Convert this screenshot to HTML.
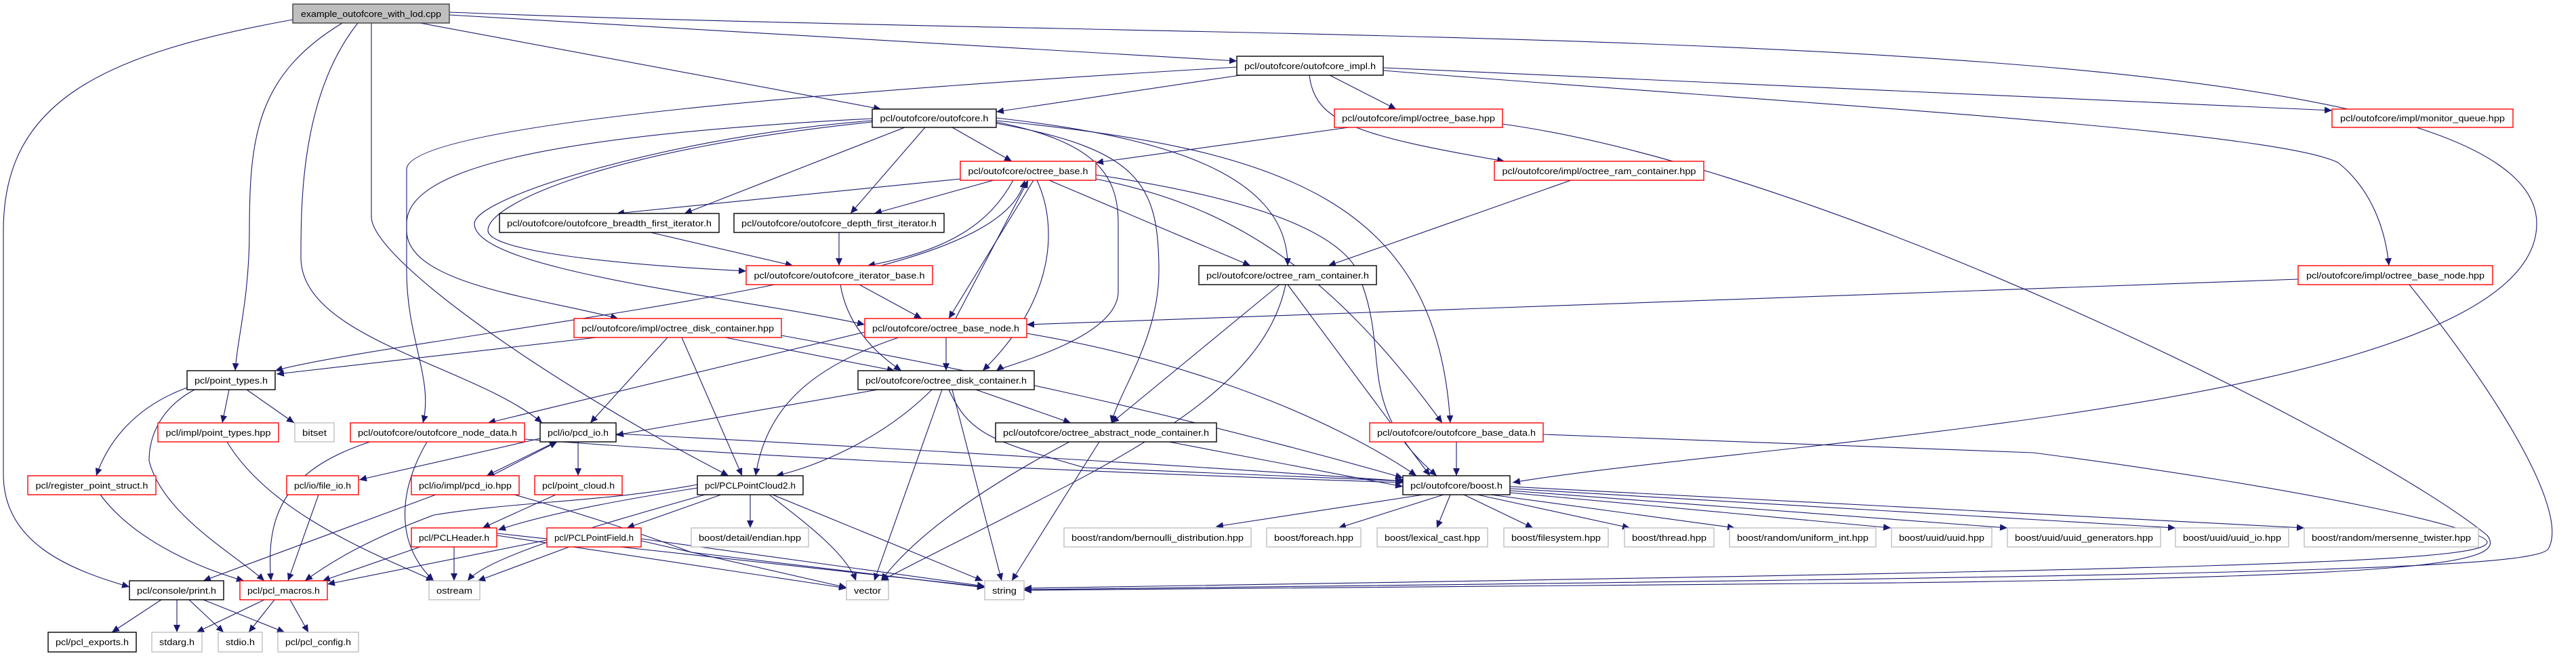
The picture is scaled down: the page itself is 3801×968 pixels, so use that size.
<!DOCTYPE html>
<html><head><meta charset="utf-8"><style>
html,body{margin:0;padding:0;background:#fff;}
svg{display:block;}
.b rect{fill:#fff;stroke-width:1.4;}
.k rect{stroke:#000;}
.r rect{stroke:#ff0000;}
.g rect{stroke:#bfbfbf;}
text{font-family:"Liberation Sans",sans-serif;font-size:13px;fill:#000;}
.e path{fill:none;stroke:#191970;stroke-width:1.1;}
</style></head><body>
<svg width="3801" height="968" viewBox="0 0 3801 968" xmlns="http://www.w3.org/2000/svg">
<defs><marker id="a" markerUnits="userSpaceOnUse" markerWidth="12" markerHeight="10" refX="11" refY="5" orient="auto"><path d="M0,0 L11,5 L0,10 Z" fill="#191970"/></marker></defs>
<g class="e" marker-end="url(#a)">
<path d="M663,22 L1825,90"/>
<path d="M663,18 C2000,70 3743,20 3743,330 C3743,600 2600,650 2232,712"/>
<path d="M620,34 L1300,161"/>
<path d="M505,34 C380,110 368,200 368,340 C368,440 350,500 347,547"/>
<path d="M528,34 C444,140 444,300 444,380 C444,500 700,540 800,624"/>
<path d="M432,29 C150,80 5,150 5,340 L5,700 C5,800 100,840 191,866"/>
<path d="M548,34 L548,320 C548,380 800,560 1075,702"/>
<path d="M1830,111 L1470,165"/>
<path d="M1962,111 L2060,161"/>
<path d="M1932,111 C1940,180 2000,200 2220,238"/>
<path d="M2041,100 L3441,163"/>
<path d="M2041,104 C2600,150 3350,190 3450,240 C3500,280 3520,340 3525,392"/>
<path d="M1825,99 C1300,130 600,180 600,250 L600,340 C600,420 800,440 912,470"/>
<path d="M1990,188 L1617,240"/>
<path d="M2217,183 C2700,250 3500,650 3670,790 C3700,830 3600,850 2800,860 L1511,871"/>
<path d="M3391,412 L1515,479"/>
<path d="M3555,420 C3700,600 3790,760 3760,810 C3740,840 3300,850 1511,870"/>
<path d="M2318,266 L1960,392"/>
<path d="M1405,188 L1493,238"/>
<path d="M1335,188 L1010,315"/>
<path d="M1365,188 L1255,315"/>
<path d="M1287,180 C900,220 720,300 720,340 C720,370 900,390 1101,400"/>
<path d="M1287,178 C1000,200 700,290 700,330 C700,400 1100,440 1276,479"/>
<path d="M1287,175 C800,200 600,250 600,330 L600,400 C600,500 640,560 624,624"/>
<path d="M1470,178 C1900,220 2120,300 2140,624"/>
<path d="M1470,174 C1700,200 1900,250 1900,392"/>
<path d="M1470,180 C1620,210 1650,260 1650,330 L1650,430 C1650,500 1480,540 1470,547"/>
<path d="M1470,182 C1680,220 1710,270 1710,400 C1710,500 1650,580 1640,624"/>
<path d="M1417,264 L910,315"/>
<path d="M1466,266 L1290,315"/>
<path d="M1495,266 C1460,330 1400,370 1280,392"/>
<path d="M1300,392 C1420,360 1500,320 1512,266"/>
<path d="M1525,266 L1400,470"/>
<path d="M1410,470 L1517,266"/>
<path d="M1548,266 L1845,392"/>
<path d="M1530,266 C1560,330 1560,440 1450,547"/>
<path d="M1612,263 C1800,300 1950,380 2128,624"/>
<path d="M1617,258 C1900,300 2000,360 2010,420 C2050,530 2000,600 2120,702"/>
<path d="M960,343 L1170,392"/>
<path d="M1238,343 L1238,392"/>
<path d="M1143,420 C900,470 500,520 406,547"/>
<path d="M1268,420 L1360,470"/>
<path d="M1240,420 C1250,480 1290,520 1330,547"/>
<path d="M1888,420 L1640,624"/>
<path d="M1900,420 L2110,702"/>
<path d="M1897,420 C1860,600 1600,700 1300,857"/>
<path d="M880,498 L408,552"/>
<path d="M1070,498 L1320,547"/>
<path d="M1006,498 L1095,702"/>
<path d="M985,498 L871,624"/>
<path d="M1153,495 C1400,540 1700,600 2070,705"/>
<path d="M1396,498 L1396,547"/>
<path d="M1326,498 C1200,540 1130,600 1115,702"/>
<path d="M1515,492 C1800,540 2000,640 2090,702"/>
<path d="M1276,490 L720,624"/>
<path d="M1295,575 L909,642"/>
<path d="M1375,575 C1300,650 1200,690 1145,702"/>
<path d="M1440,575 L1580,624"/>
<path d="M1400,575 C1430,640 1460,650 1600,690 L2075,710"/>
<path d="M1390,575 L1290,857"/>
<path d="M1405,575 L1478,857"/>
<path d="M338,575 L328,624"/>
<path d="M364,575 L434,624"/>
<path d="M276,572 C200,600 160,650 142,702"/>
<path d="M287,575 C240,600 220,640 220,680 C240,760 350,820 390,857"/>
<path d="M546,652 C430,690 390,750 400,857"/>
<path d="M630,652 C590,720 580,800 640,857"/>
<path d="M774,648 C1200,680 1700,700 2070,712"/>
<path d="M797,647 L530,708"/>
<path d="M820,652 L718,702"/>
<path d="M725,702 L822,652"/>
<path d="M853,652 L853,702"/>
<path d="M909,640 C1300,660 1800,690 2070,710"/>
<path d="M643,730 L300,857"/>
<path d="M759,730 C900,770 980,800 1020,815 L1453,867"/>
<path d="M1725,652 L2070,718"/>
<path d="M1578,652 C1450,720 1350,790 1300,857"/>
<path d="M1622,652 L1493,857"/>
<path d="M2149,652 L2149,702"/>
<path d="M2277,641 L3000,668 C3400,720 3670,780 3670,800 C3670,830 3300,840 1511,868"/>
<path d="M148,730 C200,800 300,840 360,857"/>
<path d="M335,652 C400,760 560,820 640,857"/>
<path d="M470,730 L425,857"/>
<path d="M820,730 L712,779"/>
<path d="M1029,720 C900,740 800,760 735,782"/>
<path d="M1064,730 L925,779"/>
<path d="M1107,730 L1107,779"/>
<path d="M1135,730 C1200,780 1250,820 1263,857"/>
<path d="M1140,730 L1450,857"/>
<path d="M1029,715 C900,740 760,740 640,760 C560,790 500,820 450,857"/>
<path d="M1040,730 C900,770 720,820 690,857"/>
<path d="M620,807 L476,857"/>
<path d="M670,807 L670,857"/>
<path d="M733,790 L1249,868"/>
<path d="M733,787 L1453,866"/>
<path d="M807,797 L483,862"/>
<path d="M840,807 L705,857"/>
<path d="M946,798 L1249,867"/>
<path d="M946,795 L1453,865"/>
<path d="M238,885 L165,933"/>
<path d="M261,885 L261,933"/>
<path d="M279,885 L330,933"/>
<path d="M300,885 L420,933"/>
<path d="M390,885 L290,933"/>
<path d="M405,885 L367,933"/>
<path d="M428,885 L455,933"/>
<path d="M2100,730 L1794,777"/>
<path d="M2130,730 L1975,779"/>
<path d="M2140,730 L2120,779"/>
<path d="M2160,730 L2262,779"/>
<path d="M2180,730 L2405,779"/>
<path d="M2200,730 L2560,779"/>
<path d="M2228,727 L2790,779"/>
<path d="M2228,724 L2962,779"/>
<path d="M2228,721 L3210,779"/>
<path d="M2228,718 L3400,779"/>
</g>
<g class="b">
<g><rect x="432" y="6" width="231" height="28" style="fill:#bfbfbf;stroke:#404040"/><text x="547.5" y="25" text-anchor="middle" textLength="207" lengthAdjust="spacingAndGlyphs">example_outofcore_with_lod.cpp</text></g>
<g class="k"><rect x="1825" y="83" width="216" height="28"/><text x="1933" y="102" text-anchor="middle" textLength="194" lengthAdjust="spacingAndGlyphs">pcl/outofcore/outofcore_impl.h</text></g>
<g class="k"><rect x="1287" y="161" width="183" height="27"/><text x="1378.5" y="179" text-anchor="middle" textLength="160" lengthAdjust="spacingAndGlyphs">pcl/outofcore/outofcore.h</text></g>
<g class="r"><rect x="1969" y="161" width="248" height="27"/><text x="2093" y="179" text-anchor="middle" textLength="226" lengthAdjust="spacingAndGlyphs">pcl/outofcore/impl/octree_base.hpp</text></g>
<g class="r"><rect x="3441" y="161" width="267" height="27"/><text x="3574.5" y="179" text-anchor="middle" textLength="243" lengthAdjust="spacingAndGlyphs">pcl/outofcore/impl/monitor_queue.hpp</text></g>
<g class="r"><rect x="1417" y="238" width="200" height="28"/><text x="1517" y="257" text-anchor="middle" textLength="177" lengthAdjust="spacingAndGlyphs">pcl/outofcore/octree_base.h</text></g>
<g class="r"><rect x="2205" y="238" width="309" height="28"/><text x="2359.5" y="257" text-anchor="middle" textLength="286" lengthAdjust="spacingAndGlyphs">pcl/outofcore/impl/octree_ram_container.hpp</text></g>
<g class="k"><rect x="737" y="315" width="324" height="28"/><text x="899" y="334" text-anchor="middle" textLength="302" lengthAdjust="spacingAndGlyphs">pcl/outofcore/outofcore_breadth_first_iterator.h</text></g>
<g class="k"><rect x="1083" y="315" width="310" height="28"/><text x="1238" y="334" text-anchor="middle" textLength="288" lengthAdjust="spacingAndGlyphs">pcl/outofcore/outofcore_depth_first_iterator.h</text></g>
<g class="r"><rect x="1101" y="392" width="275" height="28"/><text x="1238.5" y="411" text-anchor="middle" textLength="252" lengthAdjust="spacingAndGlyphs">pcl/outofcore/outofcore_iterator_base.h</text></g>
<g class="k"><rect x="1769" y="392" width="262" height="28"/><text x="1900" y="411" text-anchor="middle" textLength="240" lengthAdjust="spacingAndGlyphs">pcl/outofcore/octree_ram_container.h</text></g>
<g class="r"><rect x="3391" y="392" width="287" height="28"/><text x="3534.5" y="411" text-anchor="middle" textLength="263" lengthAdjust="spacingAndGlyphs">pcl/outofcore/impl/octree_base_node.hpp</text></g>
<g class="r"><rect x="847" y="470" width="306" height="28"/><text x="1000" y="489" text-anchor="middle" textLength="284" lengthAdjust="spacingAndGlyphs">pcl/outofcore/impl/octree_disk_container.hpp</text></g>
<g class="r"><rect x="1276" y="470" width="239" height="28"/><text x="1395.5" y="489" text-anchor="middle" textLength="217" lengthAdjust="spacingAndGlyphs">pcl/outofcore/octree_base_node.h</text></g>
<g class="k"><rect x="276" y="547" width="130" height="28"/><text x="341" y="566" text-anchor="middle" textLength="108" lengthAdjust="spacingAndGlyphs">pcl/point_types.h</text></g>
<g class="k"><rect x="1266" y="547" width="260" height="28"/><text x="1396" y="566" text-anchor="middle" textLength="238" lengthAdjust="spacingAndGlyphs">pcl/outofcore/octree_disk_container.h</text></g>
<g class="r"><rect x="233" y="624" width="178" height="28"/><text x="322" y="643" text-anchor="middle" textLength="155" lengthAdjust="spacingAndGlyphs">pcl/impl/point_types.hpp</text></g>
<g class="g"><rect x="435" y="624" width="58" height="28"/><text x="464" y="643" text-anchor="middle" textLength="36" lengthAdjust="spacingAndGlyphs">bitset</text></g>
<g class="r"><rect x="517" y="624" width="257" height="28"/><text x="645.5" y="643" text-anchor="middle" textLength="235" lengthAdjust="spacingAndGlyphs">pcl/outofcore/outofcore_node_data.h</text></g>
<g class="k"><rect x="797" y="624" width="112" height="28"/><text x="853" y="643" text-anchor="middle" textLength="90" lengthAdjust="spacingAndGlyphs">pcl/io/pcd_io.h</text></g>
<g class="k"><rect x="1469" y="624" width="326" height="28"/><text x="1632" y="643" text-anchor="middle" textLength="304" lengthAdjust="spacingAndGlyphs">pcl/outofcore/octree_abstract_node_container.h</text></g>
<g class="r"><rect x="2021" y="624" width="256" height="28"/><text x="2149" y="643" text-anchor="middle" textLength="234" lengthAdjust="spacingAndGlyphs">pcl/outofcore/outofcore_base_data.h</text></g>
<g class="r"><rect x="41" y="702" width="189" height="28"/><text x="135.5" y="721" text-anchor="middle" textLength="166" lengthAdjust="spacingAndGlyphs">pcl/register_point_struct.h</text></g>
<g class="r"><rect x="423" y="702" width="106" height="28"/><text x="476" y="721" text-anchor="middle" textLength="84" lengthAdjust="spacingAndGlyphs">pcl/io/file_io.h</text></g>
<g class="r"><rect x="607" y="702" width="159" height="28"/><text x="686.5" y="721" text-anchor="middle" textLength="137" lengthAdjust="spacingAndGlyphs">pcl/io/impl/pcd_io.hpp</text></g>
<g class="r"><rect x="789" y="702" width="129" height="28"/><text x="853.5" y="721" text-anchor="middle" textLength="107" lengthAdjust="spacingAndGlyphs">pcl/point_cloud.h</text></g>
<g class="k"><rect x="1029" y="702" width="156" height="28"/><text x="1107" y="721" text-anchor="middle" textLength="134" lengthAdjust="spacingAndGlyphs">pcl/PCLPointCloud2.h</text></g>
<g class="k"><rect x="2070" y="702" width="158" height="28"/><text x="2149" y="721" text-anchor="middle" textLength="136" lengthAdjust="spacingAndGlyphs">pcl/outofcore/boost.h</text></g>
<g class="r"><rect x="607" y="779" width="126" height="28"/><text x="670" y="798" text-anchor="middle" textLength="104" lengthAdjust="spacingAndGlyphs">pcl/PCLHeader.h</text></g>
<g class="r"><rect x="807" y="779" width="139" height="28"/><text x="876.5" y="798" text-anchor="middle" textLength="117" lengthAdjust="spacingAndGlyphs">pcl/PCLPointField.h</text></g>
<g class="g"><rect x="1020" y="779" width="173" height="28"/><text x="1106.5" y="798" text-anchor="middle" textLength="151" lengthAdjust="spacingAndGlyphs">boost/detail/endian.hpp</text></g>
<g class="g"><rect x="1570" y="779" width="276" height="28"/><text x="1708" y="798" text-anchor="middle" textLength="254" lengthAdjust="spacingAndGlyphs">boost/random/bernoulli_distribution.hpp</text></g>
<g class="g"><rect x="1869" y="779" width="139" height="28"/><text x="1938.5" y="798" text-anchor="middle" textLength="117" lengthAdjust="spacingAndGlyphs">boost/foreach.hpp</text></g>
<g class="g"><rect x="2032" y="779" width="163" height="28"/><text x="2113.5" y="798" text-anchor="middle" textLength="141" lengthAdjust="spacingAndGlyphs">boost/lexical_cast.hpp</text></g>
<g class="g"><rect x="2219" y="779" width="154" height="28"/><text x="2296" y="798" text-anchor="middle" textLength="132" lengthAdjust="spacingAndGlyphs">boost/filesystem.hpp</text></g>
<g class="g"><rect x="2397" y="779" width="132" height="28"/><text x="2463" y="798" text-anchor="middle" textLength="110" lengthAdjust="spacingAndGlyphs">boost/thread.hpp</text></g>
<g class="g"><rect x="2552" y="779" width="216" height="28"/><text x="2660" y="798" text-anchor="middle" textLength="194" lengthAdjust="spacingAndGlyphs">boost/random/uniform_int.hpp</text></g>
<g class="g"><rect x="2791" y="779" width="148" height="28"/><text x="2865" y="798" text-anchor="middle" textLength="126" lengthAdjust="spacingAndGlyphs">boost/uuid/uuid.hpp</text></g>
<g class="g"><rect x="2962" y="779" width="226" height="28"/><text x="3075" y="798" text-anchor="middle" textLength="204" lengthAdjust="spacingAndGlyphs">boost/uuid/uuid_generators.hpp</text></g>
<g class="g"><rect x="3210" y="779" width="167" height="28"/><text x="3293.5" y="798" text-anchor="middle" textLength="145" lengthAdjust="spacingAndGlyphs">boost/uuid/uuid_io.hpp</text></g>
<g class="g"><rect x="3400" y="779" width="257" height="28"/><text x="3528.5" y="798" text-anchor="middle" textLength="235" lengthAdjust="spacingAndGlyphs">boost/random/mersenne_twister.hpp</text></g>
<g class="k"><rect x="191" y="857" width="139" height="28"/><text x="260.5" y="876" text-anchor="middle" textLength="117" lengthAdjust="spacingAndGlyphs">pcl/console/print.h</text></g>
<g class="r"><rect x="354" y="857" width="129" height="28"/><text x="418.5" y="876" text-anchor="middle" textLength="107" lengthAdjust="spacingAndGlyphs">pcl/pcl_macros.h</text></g>
<g class="g"><rect x="633" y="857" width="75" height="28"/><text x="670.5" y="876" text-anchor="middle" textLength="53" lengthAdjust="spacingAndGlyphs">ostream</text></g>
<g class="g"><rect x="1249" y="857" width="62" height="28"/><text x="1280" y="876" text-anchor="middle" textLength="40" lengthAdjust="spacingAndGlyphs">vector</text></g>
<g class="g"><rect x="1453" y="857" width="58" height="28"/><text x="1482" y="876" text-anchor="middle" textLength="36" lengthAdjust="spacingAndGlyphs">string</text></g>
<g class="k"><rect x="71" y="933" width="130" height="29"/><text x="136" y="952" text-anchor="middle" textLength="108" lengthAdjust="spacingAndGlyphs">pcl/pcl_exports.h</text></g>
<g class="g"><rect x="224" y="933" width="74" height="29"/><text x="261" y="952" text-anchor="middle" textLength="52" lengthAdjust="spacingAndGlyphs">stdarg.h</text></g>
<g class="g"><rect x="322" y="933" width="65" height="29"/><text x="354.5" y="952" text-anchor="middle" textLength="43" lengthAdjust="spacingAndGlyphs">stdio.h</text></g>
<g class="g"><rect x="410" y="933" width="119" height="29"/><text x="469.5" y="952" text-anchor="middle" textLength="97" lengthAdjust="spacingAndGlyphs">pcl/pcl_config.h</text></g>
</g>
</svg>
</body></html>
